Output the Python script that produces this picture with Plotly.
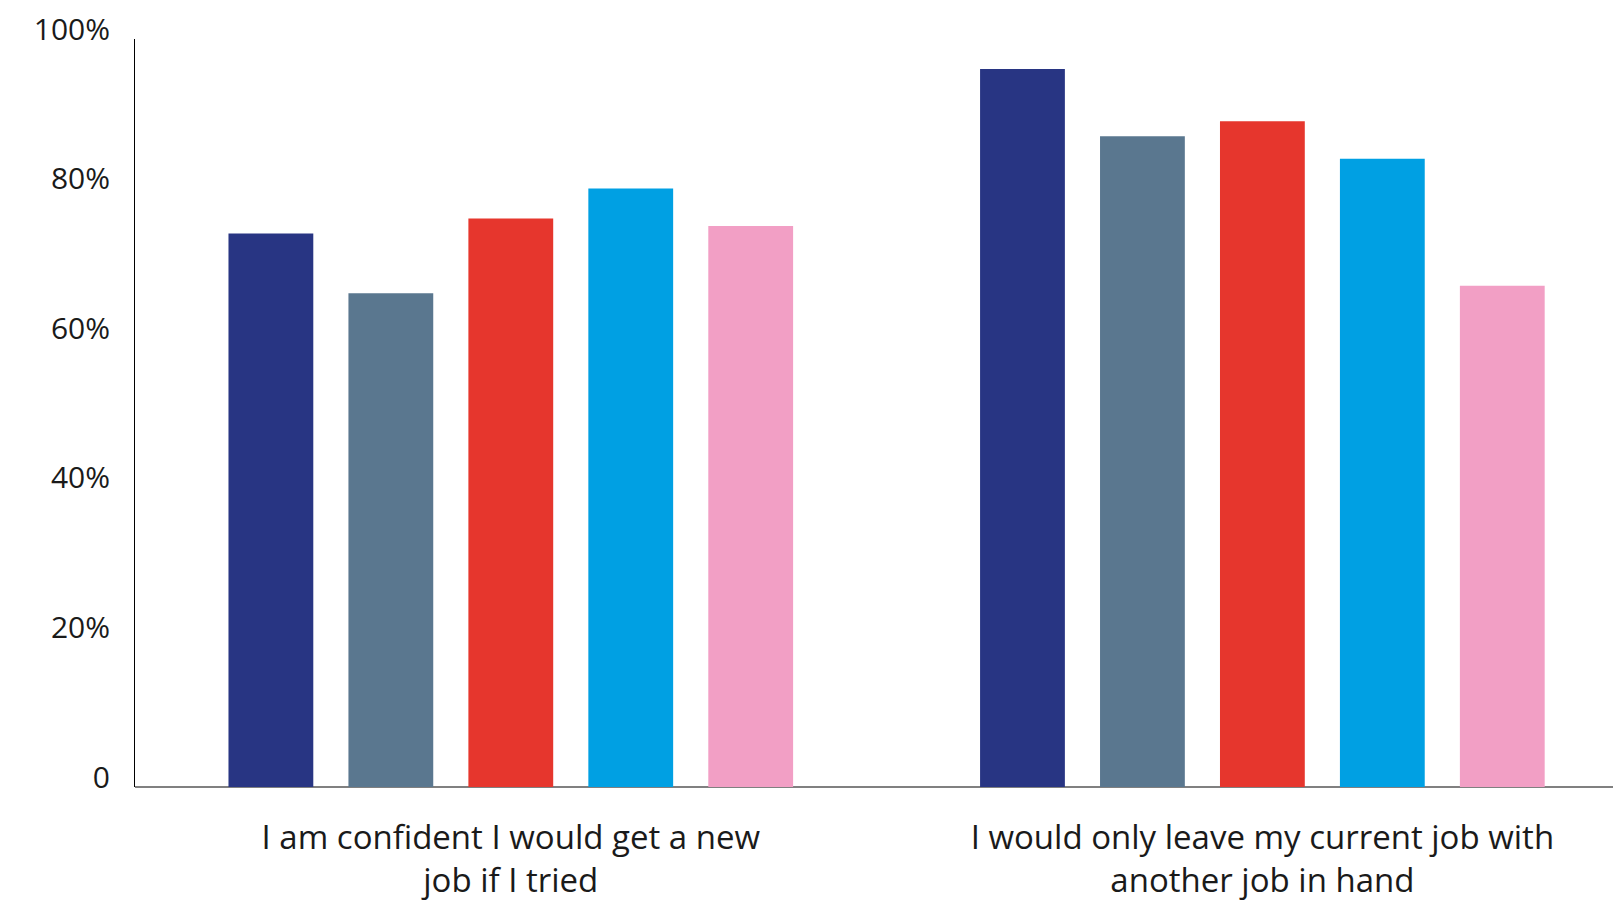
import plotly.graph_objects as go

categories = [
    "I am confident I would get a new<br>job if I tried",
    "I would only leave my current job with<br>another job in hand",
]
series_names = ["Group A", "Group B", "Group C", "Group D", "Group E"]
series_values = [
    [74, 96],
    [66, 87],
    [76, 89],
    [80, 84],
    [75, 67],
]
colors = ["#283583", "#5A778F", "#E6362D", "#00A0E3", "#F29FC5"]
tick_vals = [0, 20, 40, 60, 80, 100]
tick_text = ["0", "20%", "40%", "60%", "80%", "100%"]

fig = go.Figure()
for name, vals, col in zip(series_names, series_values, colors):
    fig.add_trace(go.Bar(x=categories, y=vals, name=name, marker_color=col,
                         marker_line_width=0, showlegend=False))

font_family = "'Open Sans', Lato, sans-serif"
fig.update_layout(
    width=1613, height=906,
    margin=dict(l=135, r=0, t=39, b=119),
    paper_bgcolor="white", plot_bgcolor="white",
    barmode="group", bargap=0.202, bargroupgap=0.293,
    font=dict(family=font_family, size=29, color="#1a1a1a"),
)
fig.update_xaxes(
    range=[-0.5, 1.4665], showgrid=False, showline=False, ticks="",
    tickfont=dict(size=33, color="#1a1a1a"), ticklabelstandoff=28,
    zeroline=False,
)
fig.update_yaxes(
    range=[0, 100], tickvals=tick_vals, ticktext=tick_text,
    showgrid=False, showline=True, linecolor="#000000", linewidth=1,
    ticks="", ticklabelstandoff=18, ticklabelshift=-10,
    zeroline=True, zerolinecolor="#808080", zerolinewidth=2,
    tickfont=dict(size=30, color="#1a1a1a"),
)
fig.write_html("out.html")
